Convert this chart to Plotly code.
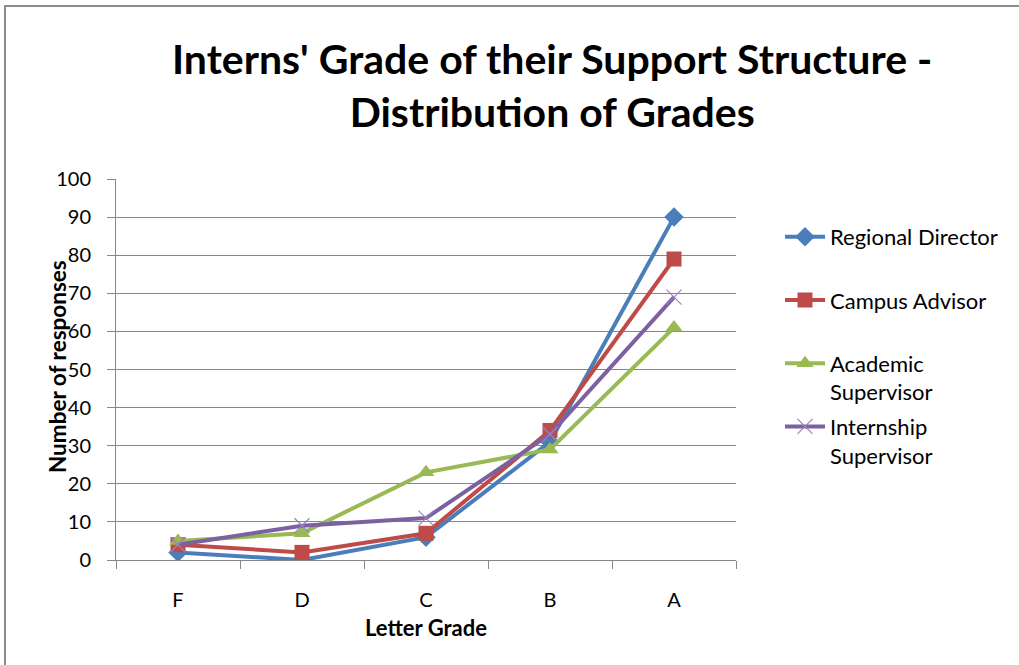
import plotly.graph_objects as go

grades = ["F", "D", "C", "B", "A"]
regional_director = [2, 0, 6, 31, 90]
campus_advisor = [4, 2, 7, 34, 79]
academic_supervisor = [5, 7, 23, 29, 61]
internship_supervisor = [4, 9, 11, 33, 69]

series_names = ["Regional Director<br> ", "Campus Advisor<br> ", "Academic<br>Supervisor", "Internship<br>Supervisor"]
colors = ["#4A7EBB", "#BE4B48", "#98B954", "#7D60A0"]

FONT = "Lato"

fig = go.Figure()
specs = [
    (regional_director, dict(symbol="diamond", size=15, color=colors[0])),
    (campus_advisor, dict(symbol="square", size=15, color=colors[1])),
    (academic_supervisor, dict(symbol="triangle-up", size=15, color=colors[2])),
    (internship_supervisor, dict(symbol="x-thin", size=15, color="#9A82C0", line=dict(width=1.2, color="#9A82C0"))),
]
for i, (vals, mk) in enumerate(specs):
    fig.add_trace(go.Scatter(
        x=grades, y=vals, name=series_names[i], mode="lines+markers",
        line=dict(color=colors[i], width=4), marker=mk, legendgroup=str(i),
    ))

W, H = 1019, 665
L, R, T, B = 116, 736, 179, 560
pw, ph = R - L, B - T

def px(x):
    return (x - L) / pw

def py(y):
    return (B - y) / ph

fig.update_layout(
    width=W, height=H,
    margin=dict(l=L, r=W - R, t=T, b=H - B, pad=0),
    paper_bgcolor="white", plot_bgcolor="white",
    font=dict(family=FONT, size=21, color="#000000"),
    showlegend=True,
    legend=dict(
        x=px(780), y=py(216), xanchor="left", yanchor="top",
        font=dict(family=FONT, size=22, color="#000000"),
        traceorder="grouped", tracegroupgap=3, valign="top",
        itemwidth=40, bgcolor="rgba(0,0,0,0)",
    ),
    xaxis=dict(
        categoryorder="array", categoryarray=grades,
        showgrid=False, showline=True, linecolor="#868686", linewidth=1,
        ticks="outside", ticklen=8, tickcolor="#868686", tickson="boundaries",
        ticklabelstandoff=22,
        tickfont=dict(family=FONT, size=20, color="#000000"),
        title=dict(text="<b>Letter Grade</b>", font=dict(family=FONT, size=22), standoff=10),
        range=[-0.5, 4.5], fixedrange=True,
    ),
    yaxis=dict(
        range=[0, 100], dtick=10, tick0=0,
        showgrid=True, gridcolor="#868686", gridwidth=1,
        showline=True, linecolor="#868686", linewidth=1,
        ticks="outside", ticklen=8, tickcolor="#868686",
        ticklabelstandoff=12, zeroline=False,
        tickfont=dict(family=FONT, size=20, color="#000000"),
    ),
    annotations=[
        dict(
            text="<b>Interns' Grade of their Support Structure -<br>Distribution of Grades</b>",
            x=px(552), y=py(85), xref="paper", yref="paper",
            xanchor="center", yanchor="middle", showarrow=False,
            font=dict(family=FONT, size=41, color="#000000"),
        ),
        dict(
            text="<b>Number of responses</b>",
            x=px(57), y=py(367), xref="paper", yref="paper",
            xanchor="center", yanchor="middle", showarrow=False, textangle=-90,
            font=dict(family=FONT, size=22.5, color="#000000"),
        ),
    ],
    shapes=[dict(
        type="rect", xref="paper", yref="paper",
        x0=px(5), x1=px(1030), y0=py(6), y1=py(680),
        line=dict(color="#8C8C8C", width=2), layer="below",
    )],
)

fig.write_html(
    "out.html",
    config={"displayModeBar": False},
    post_script="document.body.style.margin='0';document.body.style.padding='0';",
)
